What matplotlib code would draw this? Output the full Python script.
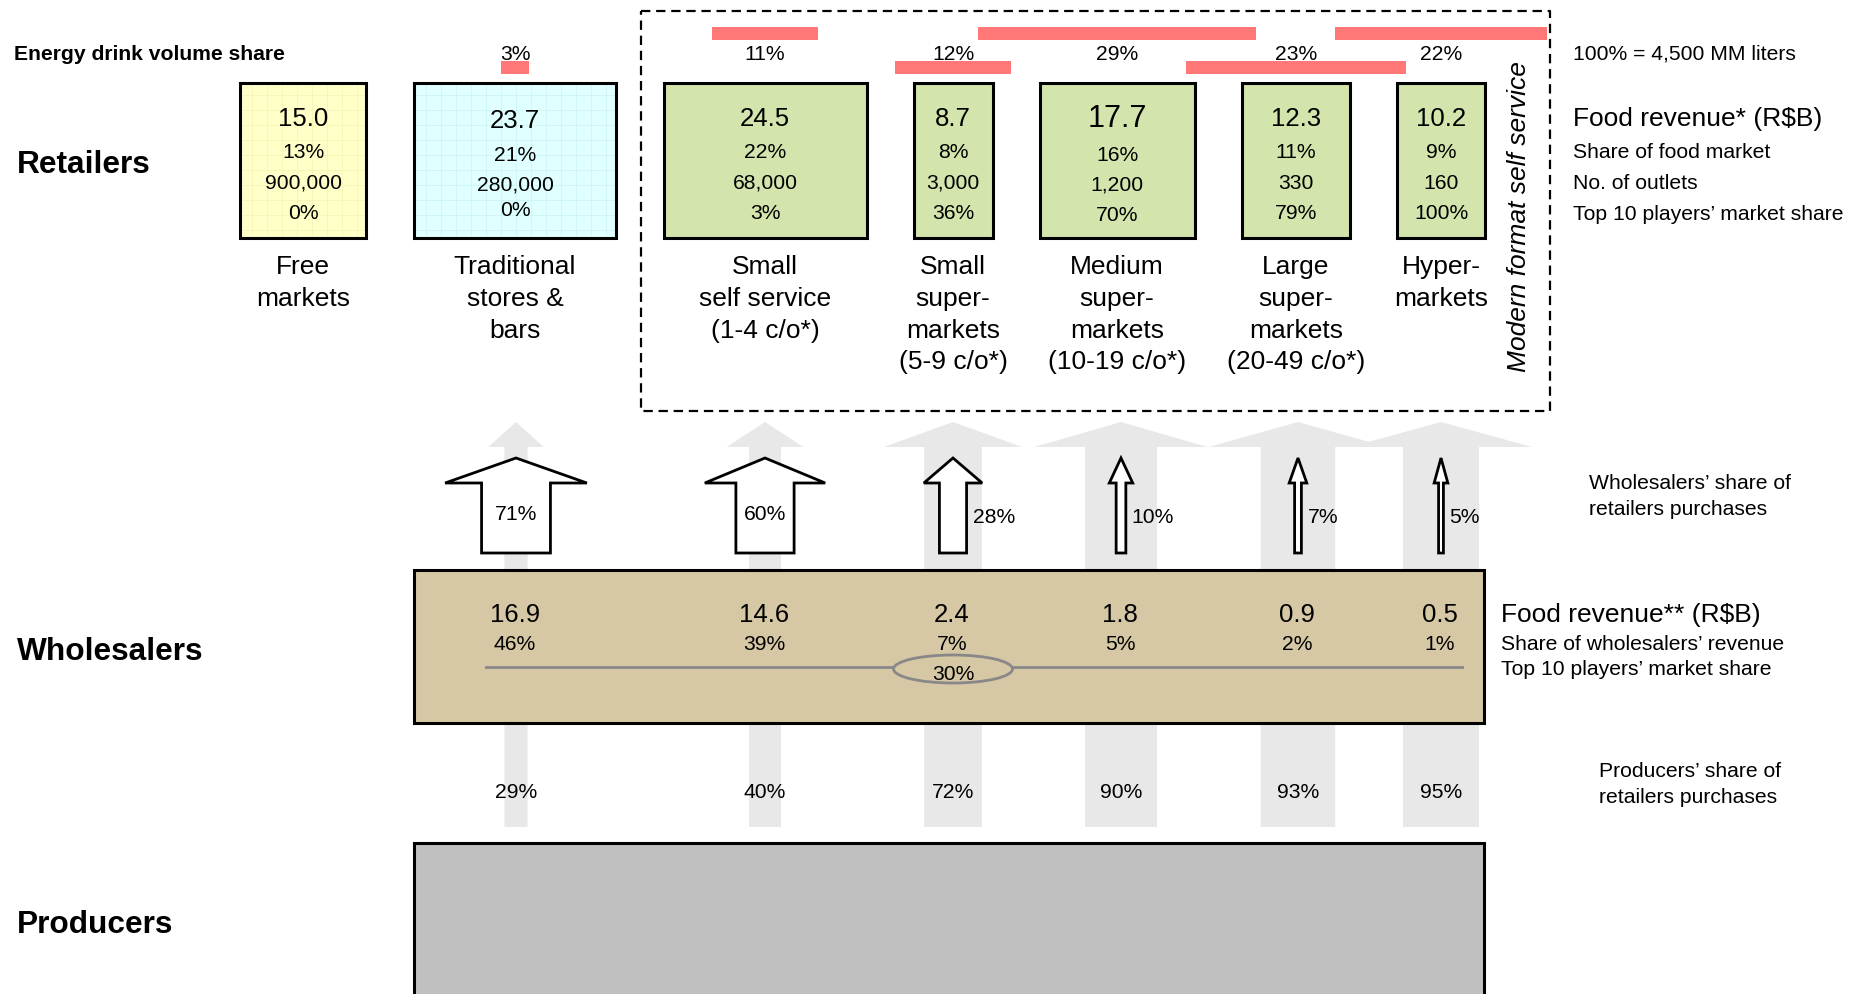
import numpy as np
import matplotlib
matplotlib.use("Agg")
import matplotlib.pyplot as plt
from matplotlib.patches import Rectangle, Polygon, Ellipse

plt.rcParams['font.family'] = ['Liberation Sans', 'DejaVu Sans']

# ---- data -------------------------------------------------------------
retail_labels = ["Free\nmarkets", "Traditional\nstores &\nbars",
                 "Small\nself service\n(1-4 c/o*)", "Small\nsuper-\nmarkets\n(5-9 c/o*)",
                 "Medium\nsuper-\nmarkets\n(10-19 c/o*)", "Large\nsuper-\nmarkets\n(20-49 c/o*)",
                 "Hyper-\nmarkets"]
food_revenue = [15.0, 23.7, 24.5, 8.7, 17.7, 12.3, 10.2]      # R$B
food_share = [13, 21, 22, 8, 16, 11, 9]                        # % of food market
outlets = [900000, 280000, 68000, 3000, 1200, 330, 160]
top10_share = [0, 0, 3, 36, 70, 79, 100]                       # %
energy_share = [None, 3, 11, 12, 29, 23, 22]                   # % of energy drink volume

wholesale_revenue = [16.9, 14.6, 2.4, 1.8, 0.9, 0.5]           # R$B
wholesale_rev_share = [46, 39, 7, 5, 2, 1]                     # %
wholesale_top10 = 30                                           # %
wholesaler_purchase_share = [71, 60, 28, 10, 7, 5]             # %
producer_purchase_share = [29, 40, 72, 90, 93, 95]             # %

# ---- layout (pixel coordinates, y grows downwards) ---------------------
W, H = 1869, 995
box_left = [240, 414, 664, 914, 1040, 1242, 1397]
box_right = [366, 616, 867, 993, 1195, 1350, 1485]
box_top, box_bot = 84, 239
col_x = [303, 515, 765, 953, 1117, 1296, 1441]
flow_x = [516, 765, 953, 1121, 1298, 1441]
box_fill = ['#FFFFC8', '#E0FFFF'] + ['#D3E4AC'] * 5
grid_col = ['#F7F5B8', '#CFF6F6'] + [None] * 5
row_y = [[117, 150, 181, 211]] * 7
row_y[1] = [119, 153, 183, 208]
row_y[4] = [117, 153, 183, 213]
value_size = [18.5] * 7
value_size[4] = 22

SMALL = 15.2
MID = 18.5
LABEL = 19
DY = 2.2   # optical shift: put the glyph body (not the full text box) on the given y

fig = plt.figure(figsize=(W / 100, H / 100), dpi=100)
ax = fig.add_axes([0, 0, 1, 1])
ax.set_xlim(0, W)
ax.set_ylim(H, 0)
ax.axis('off')


def label(x, y, s, **kw):
    kw.setdefault('va', 'center')
    return ax.text(x, y + DY, s, **kw)


# ---- section titles ------------------------------------------------------
for name, y in [("Retailers", 163), ("Wholesalers", 650), ("Producers", 923)]:
    label(17, y, name, fontsize=22.8, fontweight='bold', ha='left')

label(14, 52, "Energy drink volume share", fontsize=15.2, fontweight='bold', ha='left')

# ---- energy drink volume share bars --------------------------------------
px_per_pct = 9.6
for i, v in enumerate(energy_share):
    if v is None:
        continue
    upper = (i % 2 == 0)
    yc = 34.5 if upper else 68.5
    wbar = v * px_per_pct
    ax.barh(yc, wbar, left=col_x[i] - wbar / 2, height=13, color='#FF7777', zorder=2)
    label(col_x[i], 52, f"{v}%", fontsize=SMALL, ha='center')

# ---- modern format dashed frame ------------------------------------------
fx0, fx1, fy0, fy1 = 641, 1550, 12, 412
ax.plot([fx0, fx1, fx1, fx0, fx0], [fy0, fy0, fy1, fy1, fy0], color='black',
        lw=1.6, dashes=[4.2, 2.6], zorder=1)
ax.text(1519, 217, "Modern format self service", fontsize=LABEL, style='italic',
        rotation=90, ha='center', va='center', rotation_mode='anchor')

# ---- retailer boxes ------------------------------------------------------
for i in range(7):
    x0, x1 = box_left[i], box_right[i]
    ax.add_patch(Rectangle((x0, box_top), x1 - x0, box_bot - box_top,
                           facecolor=box_fill[i], edgecolor='none', zorder=2))
    if grid_col[i]:
        for gx in np.arange(x0 + 12, x1, 15):
            ax.plot([gx, gx], [box_top, box_bot], color=grid_col[i], lw=0.7, zorder=2.1)
        for gy in np.arange(box_top + 12, box_bot, 15):
            ax.plot([x0, x1], [gy, gy], color=grid_col[i], lw=0.7, zorder=2.1)
    ax.add_patch(Rectangle((x0, box_top), x1 - x0, box_bot - box_top,
                           facecolor='none', edgecolor='black', lw=2.2, zorder=3))
    ry = row_y[i]
    label(col_x[i], ry[0], f"{food_revenue[i]:.1f}", fontsize=value_size[i],
          ha='center', zorder=4)
    label(col_x[i], ry[1], f"{food_share[i]}%", fontsize=SMALL, ha='center', zorder=4)
    label(col_x[i], ry[2], f"{outlets[i]:,}", fontsize=SMALL, ha='center', zorder=4)
    label(col_x[i], ry[3], f"{top10_share[i]}%", fontsize=SMALL, ha='center', zorder=4)
    for k, line in enumerate(retail_labels[i].split("\n")):
        label(col_x[i], 265 + k * 31.7, line, fontsize=LABEL, ha='center')

# right-hand legend for retailers
label(1573, 52, "100% = 4,500 MM liters", fontsize=SMALL, ha='left')
label(1573, 117, "Food revenue* (R$B)", fontsize=LABEL, ha='left')
label(1573, 150, "Share of food market", fontsize=SMALL, ha='left')
label(1573, 181, "No. of outlets", fontsize=SMALL, ha='left')
label(1573, 212, "Top 10 players\u2019 market share", fontsize=SMALL, ha='left')

# ---- grey flow arrows (total purchases) ----------------------------------
tip_y, head_y, tail_y = 423, 448, 828
for x, s in zip(flow_x, producer_purchase_share):
    hw = 0.4 * s
    hh = 2.4 * hw
    pts = [(x - hw, tail_y), (x - hw, head_y), (x - hh, head_y), (x, tip_y),
           (x + hh, head_y), (x + hw, head_y), (x + hw, tail_y)]
    ax.add_patch(Polygon(pts, closed=True, facecolor='#E8E8E8', edgecolor='none', zorder=1))

# ---- white arrows (wholesalers' share of retailer purchases) -------------
wtip, whead, wtail = 459, 484, 554
for x, s in zip(flow_x, wholesaler_purchase_share):
    sw = 0.97 * s
    hw = sw / 2
    hh = (2 * sw + 4) / 2
    pts = [(x - hw, wtail), (x - hw, whead), (x - hh, whead), (x, wtip),
           (x + hh, whead), (x + hw, whead), (x + hw, wtail)]
    ax.add_patch(Polygon(pts, closed=True, facecolor='white', edgecolor='black',
                         lw=2.0, joinstyle='miter', zorder=3))
    if s >= 50:
        label(x, 512, f"{s}%", fontsize=SMALL, ha='center', zorder=4)
    else:
        label(x + hw + 6, 515, f"{s}%", fontsize=SMALL, ha='left', zorder=4)

label(1589, 481, "Wholesalers\u2019 share of", fontsize=SMALL, ha='left')
label(1589, 507, "retailers purchases", fontsize=SMALL, ha='left')

# ---- wholesalers box ------------------------------------------------------
ax.add_patch(Rectangle((414, 571), 1484 - 414, 724 - 571, facecolor='#D6C8A5',
                       edgecolor='black', lw=2.2, zorder=5))
for x, r, s in zip(flow_x, wholesale_revenue, wholesale_rev_share):
    label(x - 1, 613, f"{r:.1f}", fontsize=MID, ha='center', zorder=6)
    label(x - 1, 642, f"{s}%", fontsize=SMALL, ha='center', zorder=6)
ax.plot([486, 1462], [668, 668], color='#888888', lw=2.0, zorder=6)
ax.add_patch(Ellipse((953, 670), 119, 28, facecolor='#D6C8A5', edgecolor='#888888',
                     lw=2.0, zorder=7))
label(953, 672, f"{wholesale_top10}%", fontsize=SMALL, ha='center', zorder=8)

label(1501, 613, "Food revenue** (R$B)", fontsize=LABEL, ha='left')
label(1501, 642, "Share of wholesalers\u2019 revenue", fontsize=SMALL, ha='left')
label(1501, 667, "Top 10 players\u2019 market share", fontsize=SMALL, ha='left')

# ---- producers' share ----------------------------------------------------
for x, s in zip(flow_x, producer_purchase_share):
    label(x, 790, f"{s}%", fontsize=SMALL, ha='center', zorder=4)
label(1599, 769, "Producers\u2019 share of", fontsize=SMALL, ha='left')
label(1599, 795, "retailers purchases", fontsize=SMALL, ha='left')

# ---- producers box -------------------------------------------------------
ax.add_patch(Rectangle((414, 844), 1484 - 414, 200, facecolor='#C0C0C0',
                       edgecolor='black', lw=2.2, zorder=5))

fig.savefig("out.png", dpi=100)
